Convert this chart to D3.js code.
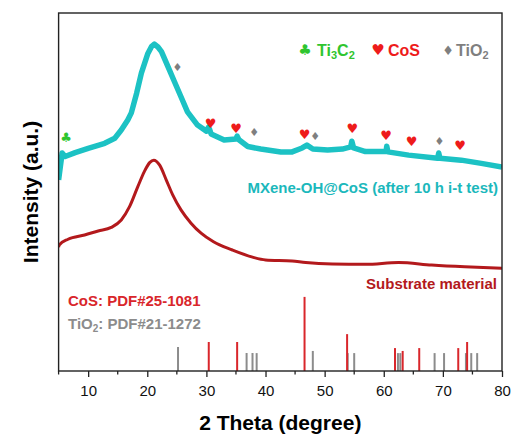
<!DOCTYPE html>
<html>
<head>
<meta charset="utf-8">
<script src="https://cdn.jsdelivr.net/npm/d3@7"></script>
<style>
  body { margin: 0; background: #fff; }
  text { font-family: "Liberation Sans", Arial, sans-serif; }
</style>
</head>
<body>
<div class="svg-content"></div>
<script>
// MXene-OH@CoS after 10 h i-t test (offset curve, arbitrary units)
const hybridTheta = [5.0, 5.6, 6.1, 7.8, 10.0, 12.8, 14.5, 15.6, 16.7, 17.3, 18.2, 19.0, 20.1, 20.7, 21.2, 21.8, 22.4, 23.5, 24.6, 25.7, 26.8, 28.5, 30.0, 30.4, 30.8, 33.0, 35.0, 35.2, 35.5, 37.0, 39.2, 42.6, 44.5, 46.2, 47.0, 48.0, 50.5, 53.0, 54.4, 54.6, 54.9, 56.9, 60.4, 60.5, 60.7, 64.2, 69.1, 69.3, 69.5, 73.1, 76.5, 80.0];
const hybridCounts = [53.4, 60.9, 59.9, 61.0, 62.2, 63.6, 65.0, 67.3, 70.1, 72.1, 77.6, 83.2, 88.7, 90.6, 91.3, 90.5, 89.2, 85.0, 80.8, 76.6, 72.4, 68.7, 67.0, 68.2, 66.2, 64.5, 64.8, 65.6, 64.6, 62.7, 62.0, 61.2, 61.2, 62.3, 63.1, 62.0, 61.7, 62.0, 62.6, 64.2, 62.3, 61.3, 61.3, 62.8, 61.2, 60.3, 59.4, 60.9, 59.4, 58.9, 58.0, 57.0];

// Substrate material
const substrateTheta = [5.0, 5.1, 6.6, 9.4, 11.7, 13.9, 15.6, 17.0, 18.4, 19.5, 20.4, 21.1, 22.1, 23.2, 24.3, 25.7, 27.4, 29.1, 31.2, 34.4, 37.8, 40.0, 44.5, 46.8, 51.3, 56.9, 62.5, 68.1, 73.7, 80.0];
const substrateCounts = [34.6, 35.2, 36.8, 38.0, 39.1, 40.1, 42.2, 45.9, 51.5, 55.7, 58.2, 58.9, 57.5, 53.4, 49.2, 45.0, 41.3, 38.5, 36.1, 33.8, 31.8, 31.0, 30.7, 30.3, 29.9, 29.8, 30.3, 29.6, 29.1, 28.7];

// reference patterns
const cosPdfTheta = [30.4, 35.2, 46.6, 53.8, 61.9, 63.2, 66.0, 72.6, 74.1];
const cosPdfIntensity = [8.1, 8.1, 20.7, 10.3, 6.4, 5.6, 6.4, 6.4, 8.1];
const tio2PdfTheta = [25.2, 36.8, 37.8, 38.5, 48.0, 53.9, 55.0, 62.4, 62.8, 68.6, 70.2, 73.9, 74.8, 75.8];
const tio2PdfIntensity = [6.7, 5.0, 5.0, 5.0, 5.6, 5.0, 5.0, 5.0, 5.0, 5.0, 5.0, 5.0, 5.0, 5.0];

// phase markers on the MXene-OH@CoS curve
const markerTheta = [6.25, 25.1, 30.7, 35.0, 38.1, 46.6, 48.4, 54.7, 60.4, 64.7, 69.4, 72.9];
const markerLevel = [65.1, 84.9, 69.0, 67.6, 66.5, 66.2, 65.4, 67.6, 65.9, 64.0, 64.0, 63.1];
const markerPhase = ["Ti3C2", "TiO2", "CoS", "CoS", "TiO2", "CoS", "TiO2", "CoS", "CoS", "CoS", "TiO2", "CoS"];

const xTickValues = [10, 20, 30, 40, 50, 60, 70, 80];
const xMinorTicks = [5, 15, 25, 35, 45, 55, 65, 75];

const svgWidth = 515;
const svgHeight = 437;
const plotLeft = 58.6, plotRight = 502, plotTop = 13, plotBottom = 371;

const phaseColor = { "Ti3C2": "#2fc52f", "CoS": "#ee1b1b", "TiO2": "#7f7f7f" };
const phaseGlyph = { "Ti3C2": "\u2663", "CoS": "\u2665", "TiO2": "\u2666" };

const xScale = d3.scaleLinear().domain([5, 80]).range([plotLeft, plotRight]);
const yScale = d3.scaleLinear().domain([0, 100]).range([plotBottom, plotTop]);

const svg = d3.select(".svg-content")
              .append("svg")
              .attr("width", svgWidth)
              .attr("height", svgHeight);

svg.append("defs").append("clipPath")
   .attr("id", "plot-clip")
   .append("rect")
   .attr("x", plotLeft).attr("y", plotTop)
   .attr("width", plotRight - plotLeft).attr("height", plotBottom - plotTop);

const smoothLine = d3.line()
                     .x(d => xScale(d[0]))
                     .y(d => yScale(d[1]))
                     .curve(d3.curveMonotoneX);

const rawLine = d3.line()
                  .x(d => xScale(d[0]))
                  .y(d => yScale(d[1]));

const plot = svg.append("g").attr("clip-path", "url(#plot-clip)");

plot.append("path")
    .datum(d3.zip(substrateTheta, substrateCounts))
    .attr("d", smoothLine)
    .attr("fill", "none")
    .attr("stroke", "#b3191c")
    .attr("stroke-width", 3);

plot.append("path")
    .datum(d3.zip(hybridTheta, hybridCounts))
    .attr("d", rawLine)
    .attr("fill", "none")
    .attr("stroke", "#1cc2c4")
    .attr("stroke-width", 5.5)
    .attr("stroke-linejoin", "round");

// PDF sticks
plot.selectAll(".tio2")
    .data(d3.zip(tio2PdfTheta, tio2PdfIntensity))
    .enter()
    .append("line")
    .attr("class", "tio2")
    .attr("x1", d => xScale(d[0])).attr("x2", d => xScale(d[0]))
    .attr("y1", yScale(0)).attr("y2", d => yScale(d[1]))
    .attr("stroke", "#8c8c8c")
    .attr("stroke-width", 2);

plot.selectAll(".cos")
    .data(d3.zip(cosPdfTheta, cosPdfIntensity))
    .enter()
    .append("line")
    .attr("class", "cos")
    .attr("x1", d => xScale(d[0])).attr("x2", d => xScale(d[0]))
    .attr("y1", yScale(0)).attr("y2", d => yScale(d[1]))
    .attr("stroke", "#d9262b")
    .attr("stroke-width", 2);

// markers
svg.selectAll(".marker")
   .data(markerTheta.map((t, i) => [t, markerLevel[i], markerPhase[i]]))
   .enter()
   .append("text")
   .attr("class", "marker")
   .attr("x", d => xScale(d[0]))
   .attr("y", d => yScale(d[1]))
   .attr("text-anchor", "middle")
   .attr("dominant-baseline", "central")
   .style("font-family", "DejaVu Sans")
   .style("font-size", d => d[2] === "TiO2" ? "11px" : "13px")
   .attr("fill", d => phaseColor[d[2]])
   .text(d => phaseGlyph[d[2]]);

// axes
const xAxis = d3.axisBottom(xScale)
                .tickValues(xTickValues)
                .tickFormat(d3.format("d"))
                .tickSize(6)
                .tickPadding(8)
                .tickSizeOuter(0);

const axisG = svg.append("g")
   .attr("transform", "translate(0," + plotBottom + ")")
   .attr("id", "x-axis")
   .call(xAxis);
axisG.select(".domain").remove();
axisG.selectAll(".tick line").attr("stroke", "#222").attr("stroke-width", 1.3);
axisG.selectAll(".tick text")
     .attr("fill", "#111")
     .style("font-size", "15px")
     .style("font-family", "'Liberation Sans', Arial, sans-serif");

svg.selectAll(".minor")
   .data(xMinorTicks)
   .enter()
   .append("line")
   .attr("class", "minor")
   .attr("x1", d => xScale(d)).attr("x2", d => xScale(d))
   .attr("y1", plotBottom).attr("y2", plotBottom + 3.5)
   .attr("stroke", "#222")
   .attr("stroke-width", 1.3);

svg.append("rect")
   .attr("x", plotLeft).attr("y", plotTop)
   .attr("width", plotRight - plotLeft).attr("height", plotBottom - plotTop)
   .attr("fill", "none")
   .attr("stroke", "#222")
   .attr("stroke-width", 1.4);

// axis titles
svg.append("text")
   .attr("x", (plotLeft + plotRight) / 2)
   .attr("y", 430)
   .attr("text-anchor", "middle")
   .style("font-size", "21px")
   .style("font-weight", "bold")
   .text("2 Theta (degree)");

svg.append("text")
   .attr("transform", "translate(38," + ((plotTop + plotBottom) / 2) + ") rotate(-90)")
   .attr("text-anchor", "middle")
   .style("font-size", "21px")
   .style("font-weight", "bold")
   .text("Intensity (a.u.)");

// legend
const legend = [["Ti3C2", 305, 317, "Ti", "3", "C", "2"], ["CoS", 378, 388, "CoS"], ["TiO2", 448, 456, "TiO", "2"]];
legend.forEach(item => {
  svg.append("text")
     .attr("x", item[1]).attr("y", 50)
     .attr("text-anchor", "middle")
     .attr("dominant-baseline", "central")
     .style("font-family", "DejaVu Sans")
     .style("font-size", item[0] === "TiO2" ? "13px" : "15px")
     .attr("fill", phaseColor[item[0]])
     .text(phaseGlyph[item[0]]);
  const t = svg.append("text")
     .attr("x", item[2]).attr("y", 56)
     .style("font-size", "16px")
     .style("font-weight", "bold")
     .attr("fill", phaseColor[item[0]]);
  item.slice(3).forEach((part, i) => {
    const sub = i % 2 === 1;
    t.append("tspan")
     .attr("dy", sub ? 3 : (i > 0 ? -3 : 0))
     .style("font-size", sub ? "11px" : "16px")
     .text(part);
  });
});

// curve labels
svg.append("text")
   .attr("x", 498).attr("y", 193)
   .attr("text-anchor", "end")
   .style("font-size", "15px")
   .style("font-weight", "bold")
   .attr("fill", "#1bb8bc")
   .text("MXene-OH@CoS (after 10 h i-t test)");

svg.append("text")
   .attr("x", 497).attr("y", 289)
   .attr("text-anchor", "end")
   .style("font-size", "15px")
   .style("font-weight", "bold")
   .attr("fill", "#b3191c")
   .text("Substrate material");

svg.append("text")
   .attr("x", 68).attr("y", 306)
   .style("font-size", "15px")
   .style("font-weight", "bold")
   .attr("fill", "#d9262b")
   .text("CoS: PDF#25-1081");

const tioRef = svg.append("text")
   .attr("x", 68).attr("y", 329)
   .style("font-size", "15px")
   .style("font-weight", "bold")
   .attr("fill", "#8c8c8c");
tioRef.append("tspan").text("TiO");
tioRef.append("tspan").attr("dy", 3).style("font-size", "10px").text("2");
tioRef.append("tspan").attr("dy", -3).text(": PDF#21-1272");
</script>
</body>
</html>
